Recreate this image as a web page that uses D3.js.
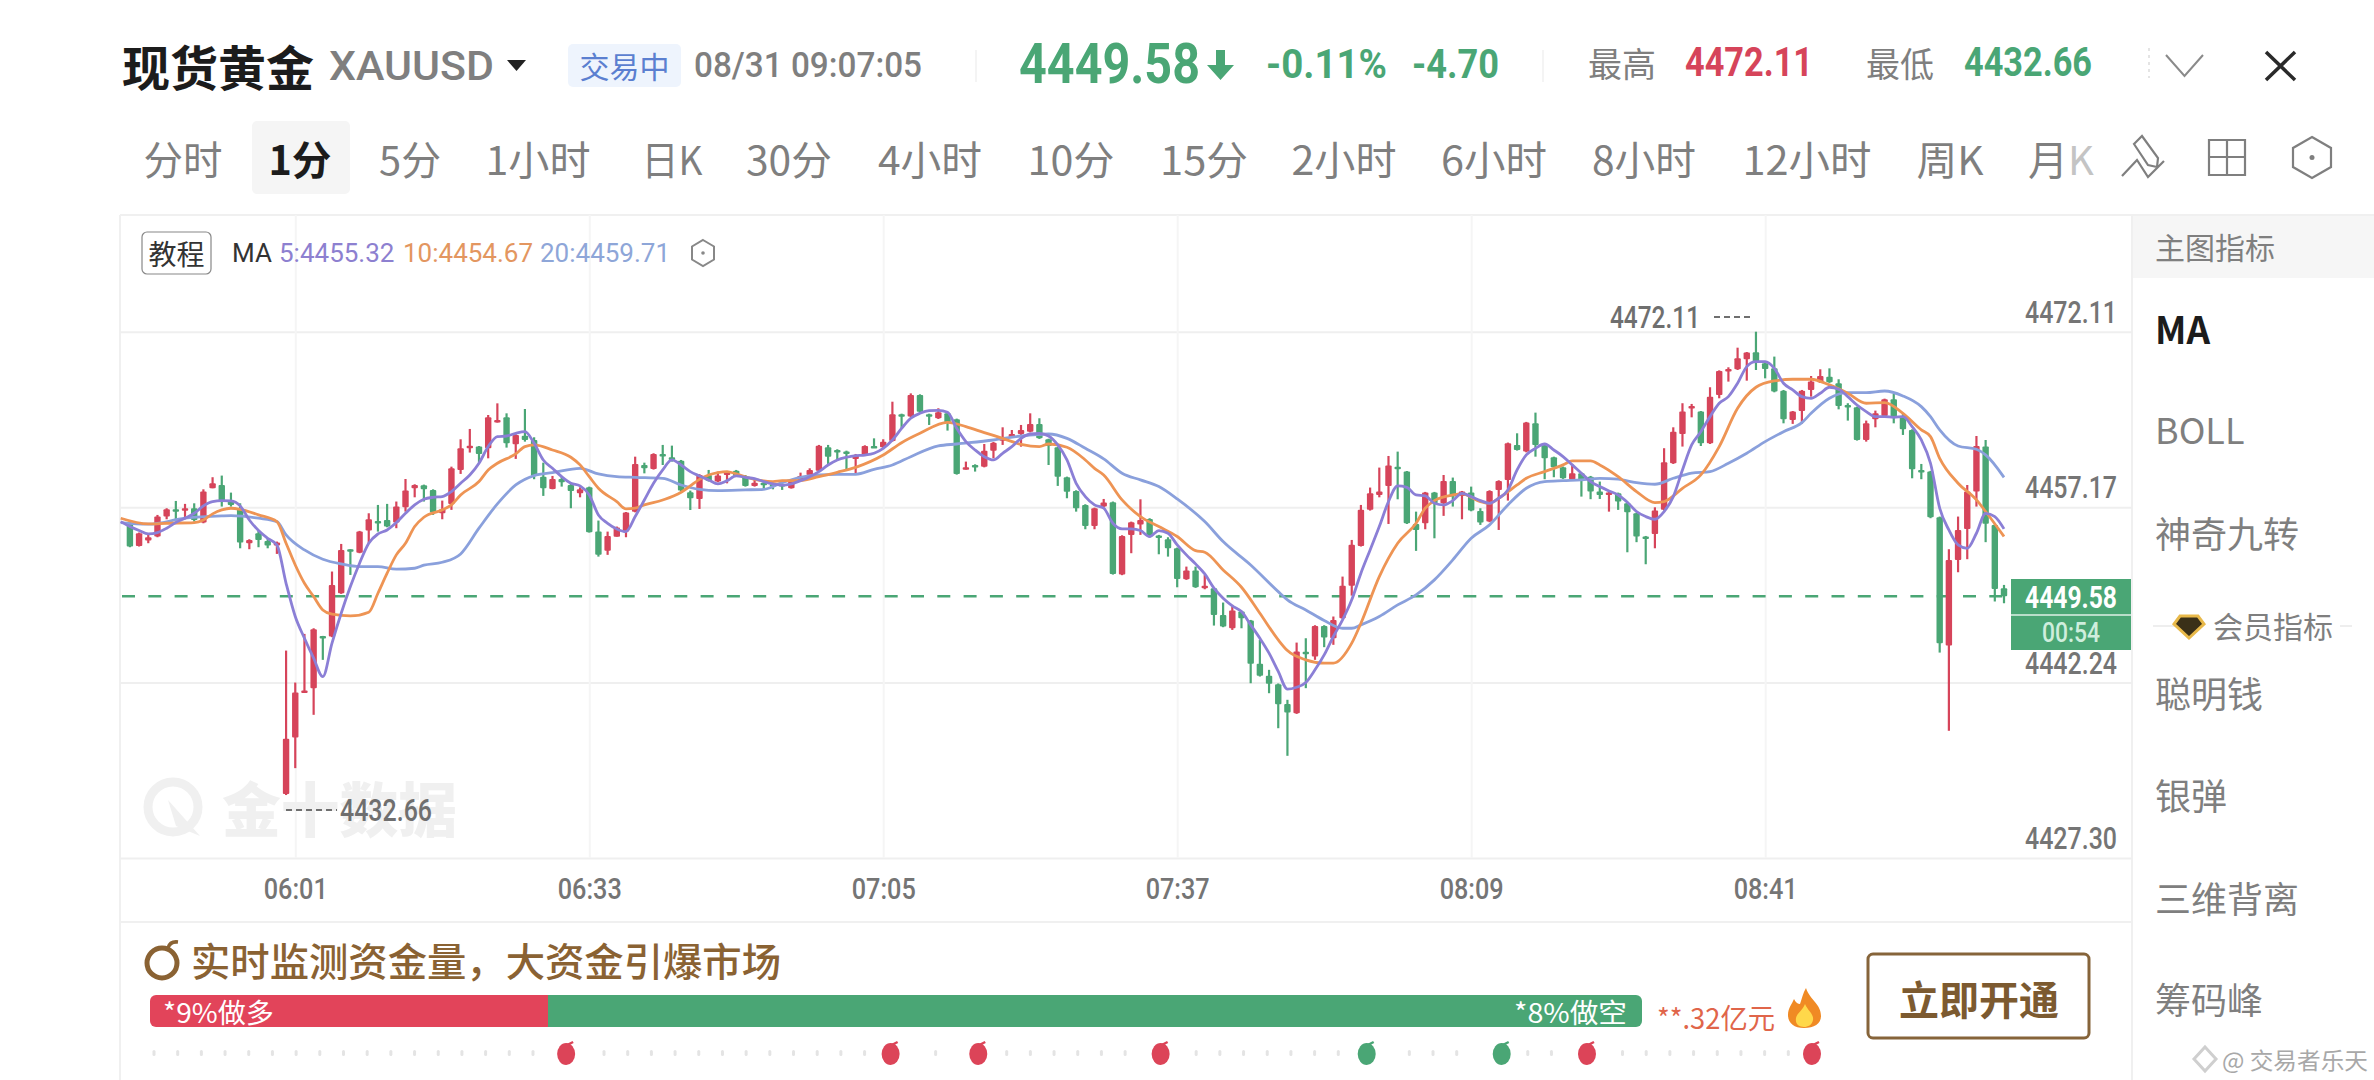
<!DOCTYPE html>
<html>
<head>
<meta charset="utf-8">
<script src="https://cdn.jsdelivr.net/npm/d3@7"></script>
<style>
  html, body { margin: 0; background: #fff; }
  svg { display: block; }
  text { font-family: "Noto Sans CJK SC", "Noto Sans", sans-serif; }
  .num, .num text { font-family: Roboto, sans-serif; }
</style>
</head>
<body>
<svg width="2374" height="1080"></svg>
<script>
const opens = [
4455.80,4453.87,4454.33,4454.67,4456.37,4456.99,4456.88,4457.08,4455.86,4458.78,
4459.06,4457.73,4457.08,4454.10,4454.95,4454.30,4453.90,4432.74,4437.56,4441.45,
4441.76,4446.21,4446.16,4449.84,4453.59,4453.30,4455.18,4456.00,4456.08,4455.86,
4457.16,4458.78,4459.04,4458.64,4456.65,4457.45,4460.34,4462.33,4462.33,4462.18,
4464.37,4464.82,4462.52,4463.26,4462.89,4459.77,4458.72,4459.57,4459.06,4458.35,
4458.86,4455.09,4453.45,4454.66,4455.09,4456.79,4460.76,4460.42,4461.70,4461.42,
4461.13,4458.44,4457.87,4459.91,4459.35,4459.91,4460.28,4459.71,4458.98,4459.26,
4459.15,4459.15,4458.78,4459.49,4459.91,4460.28,4462.27,4462.04,4461.90,4461.27,
4461.61,4462.38,4462.27,4462.81,4465.08,4464.88,4466.72,4465.08,4464.74,4465.16,
4464.65,4460.39,4460.76,4460.62,4461.98,4462.89,4463.12,4463.40,4463.60,4464.25,
4462.95,4462.27,4459.71,4458.55,4457.36,4455.57,4457.22,4457.59,4451.43,4454.81,
4455.69,4456.17,4454.75,4454.44,4453.67,4451.03,4451.77,4450.35,4450.27,4448.00,
4446.86,4448.28,4447.52,4443.83,4442.81,4442.10,4440.42,4439.63,4444.85,4444.45,
4447.06,4446.01,4447.72,4450.47,4453.87,4456.94,4458.21,4458.98,4460.62,4460.20,
4455.74,4455.80,4458.41,4457.50,4459.40,4458.13,4458.41,4456.85,4455.94,4458.64,
4459.49,4462.47,4461.90,4464.31,4462.47,4461.42,4460.57,4459.55,4460.06,4459.77,
4458.50,4458.30,4458.36,4457.51,4456.65,4454.67,4454.89,4456.94,4460.91,4463.41,
4465.68,4465.31,4462.61,4466.72,4468.80,4468.91,4469.76,4470.36,4469.42,4468.99,
4467.09,4464.60,4465.36,4467.15,4467.80,4468.28,4467.72,4465.87,4465.68,4462.89,
4464.65,4464.94,4466.36,4464.94,4463.75,4460.34,4460.20,4456.31,4445.39,4452.68,
4455.32,4458.50,4462.33,4455.66,4450.27];
const highs = [
4456.08,4455.01,4454.89,4456.51,4457.08,4457.70,4457.45,4457.50,4458.69,4459.72,
4459.86,4458.41,4457.50,4454.44,4455.23,4454.52,4454.24,4444.96,4442.24,4446.38,
4446.86,4446.21,4451.69,4454.04,4453.59,4455.15,4456.65,4457.36,4457.45,4457.65,
4459.57,4459.12,4459.09,4458.69,4457.73,4460.62,4462.95,4463.83,4462.38,4465.02,
4466.01,4465.16,4463.38,4465.53,4463.12,4460.96,4459.83,4459.77,4459.26,4458.86,
4458.92,4456.03,4455.09,4455.52,4456.76,4461.47,4460.96,4461.76,4462.47,4462.41,
4461.19,4458.58,4459.98,4460.34,4460.20,4460.25,4460.34,4459.91,4459.63,4459.32,
4459.20,4459.35,4459.40,4460.11,4460.48,4462.47,4462.47,4462.10,4461.98,4461.70,
4462.44,4463.03,4462.95,4466.15,4465.13,4466.86,4466.78,4465.13,4465.59,4465.22,
4464.71,4461.05,4460.82,4462.55,4462.72,4463.97,4463.74,4464.17,4465.16,4464.74,
4463.00,4462.32,4459.77,4458.61,4457.42,4457.13,4457.87,4457.65,4454.78,4455.94,
4457.84,4456.23,4454.81,4454.61,4453.73,4452.11,4452.11,4451.40,4450.33,4449.05,
4448.85,4448.34,4447.57,4445.87,4443.32,4442.16,4440.77,4445.64,4446.01,4447.12,
4447.12,4447.86,4451.26,4454.38,4457.36,4458.84,4460.54,4461.53,4461.90,4460.25,
4456.79,4458.47,4458.47,4459.91,4459.69,4458.55,4458.92,4457.08,4458.61,4459.46,
4462.67,4463.46,4464.43,4465.22,4462.52,4461.47,4460.63,4460.82,4460.11,4459.83,
4459.35,4458.47,4458.41,4457.56,4456.71,4454.72,4457.16,4462.19,4463.97,4466.02,
4465.96,4465.36,4467.38,4468.82,4469.08,4470.75,4470.38,4472.11,4469.62,4469.99,
4467.15,4465.36,4467.15,4468.34,4468.91,4468.99,4468.06,4466.02,4465.73,4464.54,
4465.39,4466.41,4466.81,4465.11,4463.80,4460.85,4460.26,4456.37,4453.59,4456.37,
4459.06,4463.23,4462.89,4455.72,4450.55];
const lows = [
4453.76,4453.82,4454.10,4454.61,4456.14,4456.08,4456.14,4455.94,4455.80,4458.78,
4457.22,4457.22,4453.67,4453.59,4453.76,4453.67,4453.19,4432.66,4434.95,4441.39,
4439.49,4444.17,4446.10,4449.79,4451.40,4453.25,4454.10,4455.09,4455.46,4455.38,
4456.79,4458.01,4457.65,4456.51,4456.14,4456.94,4460.00,4461.82,4460.96,4461.33,
4464.37,4462.24,4461.28,4462.75,4459.55,4458.13,4458.69,4458.92,4457.08,4458.01,
4455.01,4452.96,4453.11,4454.66,4454.61,4456.73,4460.05,4460.37,4460.76,4461.05,
4458.52,4456.93,4457.02,4459.35,4459.29,4459.20,4459.77,4458.92,4458.92,4458.78,
4458.69,4458.64,4458.75,4459.43,4459.86,4460.22,4460.85,4461.19,4460.34,4460.00,
4461.56,4462.27,4462.21,4462.75,4463.88,4464.82,4465.16,4464.17,4464.68,4463.69,
4459.94,4460.37,4460.20,4460.56,4461.33,4462.47,4463.06,4462.32,4463.54,4462.98,
4460.76,4458.98,4457.93,4456.79,4455.29,4455.29,4457.16,4451.43,4451.38,4453.25,
4454.81,4454.61,4453.16,4452.96,4450.35,4450.98,4450.30,4450.18,4447.09,4446.95,
4446.72,4446.86,4442.18,4442.75,4441.33,4438.35,4436.00,4439.57,4441.76,4444.17,
4445.25,4445.45,4447.66,4449.64,4453.82,4456.88,4458.01,4455.74,4457.84,4455.74,
4453.45,4455.29,4454.52,4456.43,4457.22,4456.14,4456.82,4455.66,4455.89,4455.23,
4457.73,4461.99,4461.84,4461.47,4459.55,4459.72,4459.58,4459.49,4458.07,4457.85,
4457.87,4456.79,4456.94,4453.33,4454.19,4452.31,4453.67,4456.88,4460.85,4462.33,
4464.82,4462.38,4462.55,4466.44,4467.86,4468.85,4467.94,4468.85,4468.14,4466.95,
4464.31,4464.26,4464.26,4466.58,4467.75,4467.75,4465.50,4464.54,4462.84,4462.75,
4463.97,4464.88,4464.31,4463.32,4459.63,4459.55,4456.23,4444.79,4438.13,4451.63,
4452.74,4457.22,4454.19,4449.14,4448.99];
const closes = [
4453.82,4454.95,4454.61,4456.37,4456.99,4456.88,4457.08,4456.08,4458.50,4459.21,
4457.73,4457.36,4454.16,4454.38,4454.38,4453.90,4454.16,4437.45,4441.39,4441.56,
4446.78,4446.10,4450.55,4453.53,4453.47,4455.09,4456.14,4455.89,4455.52,4457.22,
4458.58,4459.06,4458.69,4456.71,4456.99,4460.48,4462.18,4462.41,4461.70,4464.82,
4464.60,4462.61,4463.32,4462.89,4459.83,4458.78,4459.57,4459.29,4458.55,4458.69,
4455.03,4453.11,4454.72,4455.43,4456.71,4460.85,4460.48,4461.70,4461.59,4461.19,
4458.58,4457.93,4459.91,4459.43,4459.86,4460.20,4459.83,4458.98,4459.26,4459.15,
4459.03,4459.03,4459.35,4459.83,4460.34,4462.41,4461.47,4461.93,4461.78,4461.61,
4462.38,4462.27,4462.75,4465.08,4464.96,4466.72,4465.30,4464.88,4465.25,4464.37,
4460.00,4460.56,4460.68,4461.98,4462.66,4463.03,4463.40,4463.74,4464.25,4463.03,
4462.38,4459.77,4458.49,4457.08,4455.57,4457.08,4457.56,4451.49,4454.72,4455.89,
4456.08,4454.67,4454.61,4453.67,4451.06,4451.77,4450.35,4450.47,4448.00,4447.01,
4448.37,4447.72,4443.83,4442.81,4442.13,4440.40,4439.69,4444.88,4444.74,4447.06,
4446.07,4447.57,4450.47,4453.96,4456.94,4458.35,4458.50,4460.71,4460.40,4455.80,
4455.23,4458.41,4457.50,4459.40,4458.07,4458.50,4456.88,4455.86,4458.55,4459.40,
4462.61,4462.04,4464.37,4462.47,4461.33,4460.57,4459.63,4460.06,4459.49,4458.50,
4458.21,4458.41,4457.65,4456.74,4454.67,4454.55,4456.88,4460.99,4463.60,4465.31,
4465.79,4462.61,4466.58,4468.77,4468.94,4469.85,4470.33,4469.56,4468.94,4467.01,
4464.65,4465.31,4467.09,4467.86,4468.34,4467.80,4465.79,4465.79,4462.89,4464.31,
4465.16,4466.36,4464.88,4463.80,4460.40,4460.23,4456.31,4445.59,4452.68,4455.23,
4458.50,4462.38,4455.75,4450.21,4449.58];

// moving averages, [bar index, price]
const ma5 = [[-1,4455.94],[0,4455.52],[1,4455.18],[2,4454.89],[3,4455.01],[4,4455.38],[5,4455.86],[6,4456.23],[7,4456.65],[8,4457.28],
[9,4457.65],[10,4457.73],[11,4457.70],[12,4457.28],[13,4456.08],[14,4455.18],[15,4454.52],[16,4453.96],[17,4450.69],[18,4447.86],
[19,4446.01],[20,4444.31],[21,4442.75],[22,4445.59],[23,4448.14],[24,4450.41],[25,4452.40],[26,4454.10],[27,4454.89],[28,4455.23],
[29,4455.86],[30,4456.65],[31,4457.36],[32,4457.84],[33,4458.01],[34,4458.07],[35,4458.50],[36,4459.21],[37,4459.91],[38,4460.91],
[39,4462.33],[40,4463.18],[41,4463.23],[42,4463.46],[43,4463.60],[44,4462.61],[45,4461.19],[46,4460.48],[47,4459.77],[48,4459.21],
[49,4458.98],[50,4458.21],[51,4456.51],[52,4455.80],[53,4455.32],[54,4455.09],[55,4456.37],[56,4457.78],[57,4459.20],[58,4460.34],
[59,4461.19],[60,4460.76],[61,4460.20],[62,4459.83],[63,4459.49],[64,4459.15],[65,4459.43],[66,4459.83],[67,4459.71],[68,4459.60],
[69,4459.35],[70,4459.15],[71,4459.03],[72,4459.15],[73,4459.43],[74,4459.77],[75,4460.20],[76,4460.76],[77,4461.19],[78,4461.42],
[79,4461.56],[80,4461.61],[81,4461.76],[82,4462.18],[83,4462.89],[84,4463.88],[85,4464.74],[86,4465.16],[87,4465.39],[88,4465.42],
[89,4465.25],[90,4463.88],[91,4462.75],[92,4462.04],[93,4461.47],[94,4461.19],[95,4461.76],[96,4462.32],[97,4463.03],[98,4463.40],
[99,4463.46],[100,4463.23],[101,4462.47],[102,4461.19],[103,4459.20],[104,4458.07],[105,4457.36],[106,4457.08],[107,4455.80],[108,4455.32],
[109,4455.32],[110,4455.18],[111,4454.67],[112,4455.18],[113,4454.95],[114,4453.96],[115,4453.11],[116,4452.34],[117,4451.49],[118,4450.27],
[119,4449.42],[120,4448.77],[121,4448.28],[122,4447.15],[123,4446.01],[124,4444.74],[125,4443.18],[126,4441.67],[127,4441.84],[128,4442.24],
[129,4443.32],[130,4444.59],[131,4446.16],[132,4447.57],[133,4449.28],[134,4451.55],[135,4453.53],[136,4455.52],[137,4457.65],[138,4458.98],
[139,4458.86],[140,4458.21],[141,4458.13],[142,4457.50],[143,4457.36],[144,4457.73],[145,4458.35],[146,4458.07],[147,4457.73],[148,4457.50],
[149,4457.93],[150,4458.64],[151,4460.34],[152,4461.62],[153,4462.18],[154,4462.55],[155,4462.04],[156,4461.48],[157,4460.77],[158,4460.06],
[159,4459.35],[160,4458.92],[161,4458.55],[162,4458.21],[163,4457.59],[164,4456.80],[165,4456.37],[166,4456.14],[167,4456.80],[168,4458.07],
[169,4460.34],[170,4462.47],[171,4463.60],[172,4464.88],[173,4466.02],[174,4466.58],[175,4467.72],[176,4469.14],[177,4469.56],[178,4469.56],
[179,4468.99],[180,4467.72],[181,4467.15],[182,4466.58],[183,4466.44],[184,4466.87],[185,4467.38],[186,4467.21],[187,4466.58],[188,4465.87],
[189,4465.31],[190,4464.88],[191,4464.88],[192,4464.82],[193,4464.88],[194,4464.03],[195,4462.89],[196,4460.91],[197,4457.08],[198,4455.23],
[199,4453.96],[200,4453.67],[201,4454.95],[202,4456.65],[203,4456.37],[204,4455.32]];
const ma10 = [[-1,4456.23],[2,4455.74],[4,4455.80],[7,4455.86],[8,4456.08],[9,4456.60],[10,4456.94],[11,4457.08],[12,4456.99],[14,4456.51],
[16,4455.94],[17,4454.10],[18,4452.25],[19,4450.69],[20,4449.56],[21,4448.42],[22,4448.06],[24,4447.91],[26,4448.23],[27,4449.84],
[28,4451.55],[29,4453.11],[30,4454.10],[31,4455.52],[32,4456.31],[34,4456.94],[35,4457.36],[36,4458.21],[38,4459.35],[39,4460.34],
[40,4460.91],[42,4461.70],[43,4462.33],[44,4462.47],[46,4462.04],[48,4461.42],[49,4460.77],[50,4459.77],[51,4458.78],[53,4457.64],
[54,4457.02],[55,4457.08],[56,4457.36],[58,4457.78],[60,4458.44],[61,4458.98],[62,4459.54],[63,4459.91],[64,4460.11],[65,4460.20],
[66,4460.00],[68,4459.54],[70,4459.35],[71,4459.43],[73,4459.43],[75,4459.77],[77,4460.14],[79,4460.56],[82,4461.61],[84,4462.66],
[86,4463.46],[89,4464.39],[91,4464.03],[93,4463.52],[95,4463.03],[97,4462.52],[99,4462.32],[100,4462.55],[102,4462.27],[104,4461.19],
[105,4460.48],[106,4459.91],[108,4457.79],[110,4456.37],[112,4455.52],[114,4454.67],[116,4453.47],[117,4453.33],[119,4451.83],[121,4450.35],
[123,4448.14],[125,4445.87],[126,4444.96],[128,4444.17],[130,4443.89],[131,4443.89],[133,4445.59],[134,4447.29],[136,4451.26],[138,4454.10],
[140,4455.80],[141,4457.08],[142,4457.73],[144,4458.21],[145,4458.30],[147,4457.65],[148,4457.50],[149,4457.93],[151,4459.06],[152,4459.63],
[154,4460.20],[156,4460.77],[157,4461.11],[159,4461.11],[160,4460.77],[162,4459.77],[164,4458.50],[166,4457.56],[167,4457.65],[169,4458.78],
[171,4459.92],[173,4462.33],[175,4465.59],[177,4467.38],[179,4467.92],[181,4468.06],[183,4468.06],[185,4467.58],[187,4466.87],[189,4466.02],
[191,4466.07],[193,4465.16],[195,4463.75],[196,4463.18],[197,4461.33],[199,4459.21],[201,4457.79],[202,4456.80],[204,4454.67]];
const ma20 = [[-1,4455.86],[2,4455.72],[6,4456.23],[10,4456.43],[11,4456.45],[14,4456.23],[16,4455.94],[17,4454.81],[19,4453.53],[21,4452.74],
[23,4452.34],[25,4452.11],[27,4452.11],[29,4451.89],[31,4451.97],[32,4452.23],[34,4452.48],[36,4453.19],[38,4455.38],[40,4457.45],
[42,4459.06],[44,4459.86],[46,4460.11],[49,4460.48],[51,4460.00],[53,4459.77],[55,4459.71],[58,4459.63],[60,4459.06],[62,4458.69],
[64,4458.58],[67,4458.64],[69,4458.69],[71,4459.26],[73,4459.71],[75,4459.91],[77,4459.97],[79,4459.97],[81,4460.39],[83,4460.76],
[85,4461.47],[88,4462.38],[90,4462.55],[94,4462.89],[97,4463.23],[100,4463.40],[102,4463.03],[104,4462.18],[106,4461.28],[108,4460.06],
[110,4459.49],[112,4458.92],[114,4457.87],[117,4455.94],[119,4454.24],[122,4452.25],[125,4449.98],[126,4449.28],[128,4448.42],[130,4447.52],
[132,4446.86],[133,4446.86],[134,4447.15],[136,4447.86],[138,4448.85],[140,4449.70],[142,4450.98],[144,4452.68],[146,4454.52],[148,4455.66],
[150,4457.36],[152,4458.78],[154,4459.35],[156,4459.43],[158,4459.49],[160,4459.63],[162,4459.55],[164,4459.26],[166,4459.12],[168,4459.63],
[170,4460.06],[172,4460.20],[174,4460.91],[176,4461.76],[178,4462.75],[180,4463.60],[182,4464.37],[183,4465.16],[185,4466.44],[187,4466.92],
[189,4466.92],[191,4467.06],[193,4466.64],[195,4465.73],[196,4464.88],[197,4463.75],[199,4462.38],[201,4462.10],[202,4461.62],[204,4459.71]];

const priceTicks = [4472.11, 4457.17, 4442.24, 4427.30];
const timeLabels = ['06:01', '06:33', '07:05', '07:37', '08:09', '08:41'];
const timeBars = [18, 50, 82, 114, 146, 178];
const lastPrice = 4449.58;

const tabs = ['分时', '1分', '5分', '1小时', '日K', '30分', '4小时', '10分', '15分', '2小时', '6小时', '8小时', '12小时', '周K', '月K'];
const tabCenters = [183, 300, 410, 538, 672, 789, 930, 1071, 1204, 1344, 1494, 1644, 1807, 1950, 2061];
const tabWidths = [79, 63, 62, 105, 61, 86, 104, 87, 88, 105, 106, 104, 129, 67, 67];
const sideItems = ['MA', 'BOLL', '神奇九转', '聪明钱', '银弹', '三维背离', '筹码峰'];
const sideY = [327, 428, 532, 692, 794, 897, 998];
const bombRed = [17.4, 31.1, 34.8, 42.5, 60.5, 70];
const bombGreen = [51.2, 56.9];

const red = '#d6445a', green = '#4aa675', grey = '#7f7f7f', brown = '#8a6233';
const svg = d3.select('svg');

function label(g, x, y, str, o = {}) {
  const t = g.append('text').attr('x', x).attr('y', y)
    .attr('dominant-baseline', 'central')
    .attr('text-anchor', o.anchor || 'start')
    .attr('font-size', o.size || 30)
    .attr('font-weight', o.weight || 400)
    .attr('fill', o.fill || grey)
    .text(str);
  if (o.num) t.attr('class', 'num').style('font-family', 'Roboto, sans-serif');
  if (o.len) t.attr('textLength', o.len).attr('lengthAdjust', 'spacingAndGlyphs');
  return t;
}

// ---- header
const head = svg.append('g');
label(head, 122, 65, '现货黄金', { size: 48, weight: 700, fill: '#1c1c1c', len: 192 });
label(head, 329, 66, 'XAUUSD', { size: 40, weight: 500, num: true, len: 165 });
head.append('path').attr('d', 'M507,60H526L516.5,71Z').attr('fill', '#222');
head.append('rect').attr('x', 568).attr('y', 44).attr('width', 113).attr('height', 43).attr('rx', 5).attr('fill', '#eef4fd');
label(head, 624.5, 65, '交易中', { size: 30, anchor: 'middle', fill: '#5b7fd0' });
label(head, 694, 65, '08/31 09:07:05', { size: 35, weight: 500, num: true, len: 228 });
head.append('line').attr('x1', 976).attr('x2', 976).attr('y1', 50).attr('y2', 82).attr('stroke', '#f4f4f4').attr('stroke-width', 2);
label(head, 1019, 64, '4449.58', { size: 55, weight: 700, fill: green, num: true, len: 181 });
head.append('path').attr('d', 'M1216,50h9v15h9L1220.5,80L1207,65h9Z').attr('fill', green);
label(head, 1266, 64, '-0.11%', { size: 40, weight: 700, fill: green, num: true, len: 121 });
label(head, 1412, 64, '-4.70', { size: 40, weight: 700, fill: green, num: true, len: 87 });
head.append('line').attr('x1', 1543).attr('x2', 1543).attr('y1', 50).attr('y2', 82).attr('stroke', '#f4f4f4').attr('stroke-width', 2);
label(head, 1588, 62, '最高', { size: 34 });
label(head, 1685, 62, '4472.11', { size: 40, weight: 700, fill: red, num: true, len: 128 });
label(head, 1866, 62, '最低', { size: 34 });
label(head, 1964, 62, '4432.66', { size: 40, weight: 700, fill: green, num: true, len: 128 });
head.append('line').attr('x1', 2149).attr('x2', 2149).attr('y1', 48).attr('y2', 78).attr('stroke', '#e4e4e4').attr('stroke-width', 2).attr('stroke-dasharray', '3 4');
head.append('path').attr('d', 'M2166,55L2184.5,76L2203,55').attr('fill', 'none').attr('stroke', '#8a8a8a').attr('stroke-width', 2);
head.append('path').attr('d', 'M2266,52L2295,80M2295,52L2266,80').attr('fill', 'none').attr('stroke', '#2a2a2a').attr('stroke-width', 3.5);

// ---- period tabs
head.append('rect').attr('x', 252).attr('y', 121).attr('width', 98).attr('height', 73).attr('rx', 5).attr('fill', '#f5f5f5');
tabs.forEach((t, i) => {
  const picked = t === '1分';
  if (t === '月K') {
    const m = label(head, tabCenters[i], 158, '', { size: 40, anchor: 'middle' });
    m.append('tspan').text('月');
    m.append('tspan').attr('fill', '#c4c4c4').text('K');
  } else {
    label(head, tabCenters[i], 158, t, { size: 40, anchor: 'middle', weight: picked ? 700 : 400, fill: picked ? '#1c1c1c' : grey, len: tabWidths[i] });
  }
});
const icons = head.append('g').attr('fill', 'none').attr('stroke', grey).attr('stroke-width', 2.2);
icons.append('path').attr('d', 'M2134,144L2142,136L2158,158L2157,167L2148,165ZM2122,176L2137,160L2148,177L2164,161');
icons.append('path').attr('d', 'M2209,140H2245V175H2209ZM2227,140V175M2209,157H2245');
icons.append('path').attr('d', 'M2312,137L2331,148V167L2312,178L2293,167V148Z');
head.append('circle').attr('cx', 2312).attr('cy', 157.5).attr('r', 2.5).attr('fill', grey);

// ---- scales
const x = d3.scaleLinear().domain([0, 204]).range([129.9, 2004]);
const y = d3.scaleLinear().domain([priceTicks[0], priceTicks[3]]).range([331.7, 858]);
const plotL = 120, plotR = 2132, plotT = 215, plotB = 858;

svg.append('clipPath').attr('id', 'plot').append('rect')
  .attr('x', plotL).attr('y', plotT).attr('width', plotR - plotL).attr('height', plotB - plotT);

// ---- frame and side panel
const frame = svg.append('g').attr('stroke', '#f0f0f0').attr('stroke-width', 2);
frame.append('line').attr('x1', plotL).attr('x2', 2374).attr('y1', plotT).attr('y2', plotT);
frame.append('line').attr('x1', plotL).attr('x2', plotL).attr('y1', plotT).attr('y2', 1080);
frame.append('line').attr('x1', plotR).attr('x2', plotR).attr('y1', plotT).attr('y2', 1080);
frame.append('line').attr('x1', plotL).attr('x2', plotR).attr('y1', 922).attr('y2', 922);

const side = svg.append('g');
side.append('rect').attr('x', plotR + 1).attr('y', plotT + 1).attr('width', 241).attr('height', 62).attr('fill', '#f6f6f6');
label(side, 2155, 246, '主图指标', { size: 30 });
sideItems.forEach((t, i) => {
  label(side, 2155, sideY[i], t, t === 'MA' ? { size: 38, weight: 700, fill: '#1c1c1c', len: 55 } : { size: 36 });
});
side.append('path').attr('d', 'M2153,626H2180M2340,626H2352').attr('stroke', '#eeeeee').attr('stroke-width', 2);
side.append('path').attr('d', 'M2180,616H2198L2204,624L2189,638L2174,624Z').attr('fill', '#3a3018').attr('stroke', '#e8b94a').attr('stroke-width', 3);
label(side, 2213, 625, '会员指标', { size: 30 });

// ---- grid and axes
const yAxis = svg.append('g').attr('transform', `translate(${plotL},0)`)
  .call(d3.axisLeft(y).tickValues(priceTicks).tickSize(-(plotR - plotL)).tickFormat(d3.format('.2f')));
yAxis.select('.domain').remove();
yAxis.selectAll('line').attr('stroke', '#efefef').attr('stroke-width', 2);
yAxis.selectAll('text')
  .attr('class', 'num')
  .attr('x', 2117 - plotL).attr('dy', 0).attr('y', -20)
  .attr('text-anchor', 'end').attr('dominant-baseline', 'central')
  .attr('font-size', 31).attr('font-weight', 500).attr('fill', '#757575').style('font-family', 'Roboto, sans-serif')
  .attr('textLength', 92).attr('lengthAdjust', 'spacingAndGlyphs');

const xAxis = svg.append('g').attr('transform', `translate(0,${plotB})`)
  .call(d3.axisBottom(x).tickValues(timeBars).tickSize(-(plotB - plotT)).tickFormat((d, i) => timeLabels[i]));
xAxis.select('.domain').remove();
xAxis.selectAll('line').attr('stroke', '#f5f5f5').attr('stroke-width', 2);
xAxis.selectAll('text')
  .attr('class', 'num')
  .attr('y', 31).attr('dy', 0).attr('dominant-baseline', 'central')
  .attr('font-size', 29).attr('font-weight', 500).attr('fill', '#757575').style('font-family', 'Roboto, sans-serif')
  .attr('textLength', 64).attr('lengthAdjust', 'spacingAndGlyphs');

// ---- watermark
const wm = svg.append('g');
wm.append('circle').attr('cx', 173).attr('cy', 807).attr('r', 25).attr('fill', 'none').attr('stroke', '#f0f0f0').attr('stroke-width', 9);
wm.append('path').attr('d', 'M168,800L200,836L176,826Z').attr('fill', '#f0f0f0');
label(wm, 222, 806, '金十数据', { size: 59, weight: 900, fill: '#f0f0f0', len: 235 });

// ---- last price line
svg.append('line').attr('x1', plotL).attr('x2', 2011).attr('y1', y(lastPrice)).attr('y2', y(lastPrice))
  .attr('stroke', green).attr('stroke-width', 2.4).attr('stroke-dasharray', '13 13.3').attr('stroke-dashoffset', -2);

// ---- candles
const bars = d3.range(opens.length);
const color = i => closes[i] >= opens[i] ? red : green;
const plot = svg.append('g').attr('clip-path', 'url(#plot)');
plot.append('g').selectAll('line').data(bars).join('line')
  .attr('x1', i => x(i)).attr('x2', i => x(i))
  .attr('y1', i => y(highs[i])).attr('y2', i => y(lows[i]))
  .attr('stroke', color).attr('stroke-width', 2.2);
plot.append('g').selectAll('rect').data(bars).join('rect')
  .attr('x', i => x(i) - 3.2).attr('width', 6.4)
  .attr('y', i => y(Math.max(opens[i], closes[i])))
  .attr('height', i => Math.max(2.5, Math.abs(y(opens[i]) - y(closes[i]))))
  .attr('rx', 1).attr('fill', color);

// ---- moving averages
const line = d3.line().x(d => x(d[0])).y(d => y(d[1])).curve(d3.curveMonotoneX);
[[ma20, '#8aa0dc'], [ma10, '#ee9454'], [ma5, '#8b7fd6']].forEach(([s, c]) => {
  plot.append('path').datum(s).attr('d', line).attr('fill', 'none')
    .attr('stroke', c).attr('stroke-width', 2.8).attr('stroke-linejoin', 'round');
});

// ---- legend
const leg = svg.append('g');
leg.append('rect').attr('x', 142).attr('y', 232).attr('width', 69).attr('height', 42).attr('rx', 5)
  .attr('fill', '#fff').attr('stroke', '#888').attr('stroke-width', 1.2);
label(leg, 176.5, 253, '教程', { size: 28, anchor: 'middle', fill: '#333' });
label(leg, 232, 253, 'MA', { size: 26, num: true, fill: '#333' });
label(leg, 279, 253, '5:4455.32', { size: 26, num: true, fill: '#8d80d0' });
label(leg, 403, 253, '10:4454.67', { size: 26, num: true, fill: '#e39660' });
label(leg, 540, 253, '20:4459.71', { size: 26, num: true, fill: '#8ea6d8' });
leg.append('path').attr('d', 'M703,240L714,246.5V259.5L703,266L692,259.5V246.5Z').attr('fill', '#fff').attr('stroke', '#888').attr('stroke-width', 2);
leg.append('circle').attr('cx', 703).attr('cy', 253).attr('r', 1.8).attr('fill', '#888');

// ---- high / low marks
const marks = svg.append('g');
label(marks, 1610, 317, '4472.11', { size: 31, weight: 500, num: true, fill: '#6f6f6f', len: 90 });
marks.append('line').attr('x1', 1714).attr('x2', 1752).attr('y1', 317).attr('y2', 317)
  .attr('stroke', '#6f6f6f').attr('stroke-width', 2).attr('stroke-dasharray', '6 4');
marks.append('line').attr('x1', 286).attr('x2', 337).attr('y1', 810).attr('y2', 810)
  .attr('stroke', '#6f6f6f').attr('stroke-width', 2).attr('stroke-dasharray', '6 4');
label(marks, 340, 810, '4432.66', { size: 31, weight: 500, num: true, fill: '#6f6f6f', len: 92 });

// ---- price tag
const tag = svg.append('g');
tag.append('rect').attr('x', 2011).attr('y', 579).attr('width', 120).attr('height', 71).attr('fill', green);
tag.append('line').attr('x1', 2011).attr('x2', 2131).attr('y1', 615).attr('y2', 615).attr('stroke', '#dff1e7').attr('stroke-width', 1.5);
label(tag, 2071, 597, '4449.58', { size: 31, weight: 700, anchor: 'middle', num: true, fill: '#fff', len: 92 });
label(tag, 2071, 632, '00:54', { size: 28, weight: 500, anchor: 'middle', num: true, fill: '#cfeedd', len: 58 });

// ---- bottom banner
const ban = svg.append('g');
ban.append('circle').attr('cx', 162).attr('cy', 963).attr('r', 15).attr('fill', 'none').attr('stroke', brown).attr('stroke-width', 5);
ban.append('path').attr('d', 'M168,948Q170,941 178,942').attr('fill', 'none').attr('stroke', brown).attr('stroke-width', 3.5);
label(ban, 191, 959, '实时监测资金量，大资金引爆市场', { size: 39, weight: 500, fill: brown, len: 590 });
ban.append('path').attr('d', 'M548,995H156a6,6 0 0 0 -6,6V1021a6,6 0 0 0 6,6H548Z').attr('fill', '#e2445a');
ban.append('path').attr('d', 'M548,995H1636a6,6 0 0 1 6,6V1021a6,6 0 0 1 -6,6H548Z').attr('fill', green);
label(ban, 163, 1011, '*9%做多', { size: 27, fill: '#fff', len: 111 });
label(ban, 1627, 1011, '*8%做空', { size: 27, fill: '#fff', anchor: 'end', len: 113 });
label(ban, 1657, 1017, '**.32亿元', { size: 28, fill: '#e0654a', len: 118 });
ban.append('path').attr('d', 'M1806,988C1810,1000 1821,1004 1821,1016C1821,1024 1814,1028 1804,1028C1794,1028 1788,1023 1788,1015C1788,1008 1792,1004 1794,999C1796,1003 1798,1004 1800,1004C1802,998 1803,993 1806,988Z').attr('fill', '#f08a24');
ban.append('path').attr('d', 'M1805,1004C1808,1011 1814,1014 1813,1020C1812,1025 1808,1027 1804,1027C1799,1027 1795,1024 1796,1018C1797,1013 1803,1010 1805,1004Z').attr('fill', '#ffd84a');
ban.append('rect').attr('x', 1868).attr('y', 954).attr('width', 221).attr('height', 84).attr('rx', 5)
  .attr('fill', '#fff').attr('stroke', '#86643a').attr('stroke-width', 3);
label(ban, 1979, 998, '立即开通', { size: 40, weight: 700, anchor: 'middle', fill: '#7c5a30' });

// ---- signal dots
const slot = d3.scaleLinear().domain([0, 70]).range([154, 1812]);
const bombs = bombRed.concat(bombGreen);
const dots = d3.range(71).filter(k => bombs.every(b => Math.abs(b - k) > 0.9));
ban.append('g').selectAll('rect').data(dots).join('rect')
  .attr('x', d => slot(d) - 1.5).attr('y', 1050).attr('width', 3).attr('height', 6).attr('rx', 1.5).attr('fill', '#e4e4e4');
function bomb(k, c) {
  const bx = slot(k);
  ban.append('ellipse').attr('cx', bx).attr('cy', 1054).attr('rx', 9).attr('ry', 11).attr('fill', c);
  ban.append('path').attr('d', `M${bx + 1},1045L${bx + 7},1042`).attr('stroke', c).attr('stroke-width', 2.5);
}
bombRed.forEach(k => bomb(k, '#dc4458'));
bombGreen.forEach(k => bomb(k, green));

// ---- screenshot watermark
const stamp = svg.append('g');
stamp.append('path').attr('d', 'M2205,1047L2216,1059L2205,1071L2194,1059Z').attr('fill', 'none').attr('stroke', '#cfcfcf').attr('stroke-width', 3);
label(stamp, 2222, 1059, '@ 交易者乐天', { size: 23, fill: '#a8a8a8', len: 146 });
</script>
</body>
</html>
